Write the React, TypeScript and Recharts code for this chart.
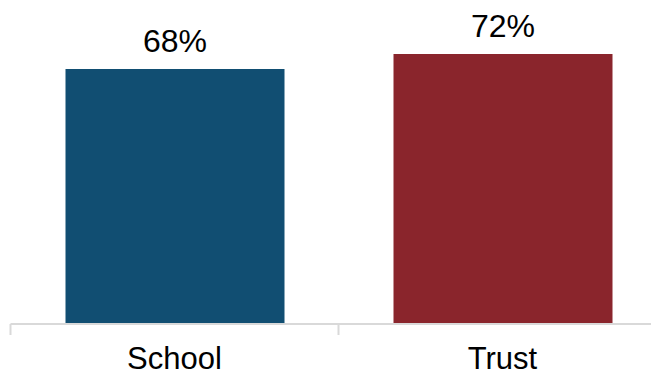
import React from 'react';
import { BarChart, Bar, XAxis, YAxis, Cell, LabelList } from 'recharts';

const categories = ['School', 'Trust'];
const values = [68, 72];
const colors = ['#114E72', '#8A252C'];

const chartData = categories.map((name, i) => ({ name, value: values[i], color: colors[i] }));

const CHART_W = 700;
const MARGIN = { top: 16, right: 41.5, bottom: 0, left: 2.5 };
const BAND = (CHART_W - MARGIN.left - MARGIN.right) / categories.length;

const FONT = '"Liberation Sans", Arial, sans-serif';

const CategoryTick = ({ x, y, payload, index }: any) => {
  const left = x - BAND / 2;
  return (
    <g>
      <line x1={left} y1={y} x2={left} y2={y + 11} stroke="#d9d9d9" strokeWidth={2} />
      {index === categories.length - 1 && (
        <line x1={x + BAND / 2} y1={y} x2={x + BAND / 2} y2={y + 11} stroke="#d9d9d9" strokeWidth={2} />
      )}
      <text x={x} y={y + 45} textAnchor="middle" fill="#000" fontSize={31} fontFamily={FONT}>
        {payload.value}
      </text>
    </g>
  );
};

const App: React.FC = () => {
  return (
    <div style={{ width: 651, height: 368, overflow: 'hidden' }}>
      <BarChart width={CHART_W} height={368} data={chartData} margin={MARGIN}>
        <XAxis
          dataKey="name"
          height={52}
          tickLine={false}
          tickSize={0}
          tickMargin={0}
          axisLine={{ stroke: '#d9d9d9', strokeWidth: 2 }}
          tick={<CategoryTick />}
          interval={0}
        />
        <YAxis hide domain={[0, 80]} />
        <Bar dataKey="value" barSize={219} isAnimationActive={false}>
          {chartData.map((entry, index) => (
            <Cell key={`cell-${index}`} fill={entry.color} />
          ))}
          <LabelList
            dataKey="value"
            position="top"
            offset={17}
            formatter={(v: any) => `${v}%`}
            fill="#000"
            fontSize={32}
            fontFamily={FONT}
          />
        </Bar>
      </BarChart>
    </div>
  );
};

export default App;
